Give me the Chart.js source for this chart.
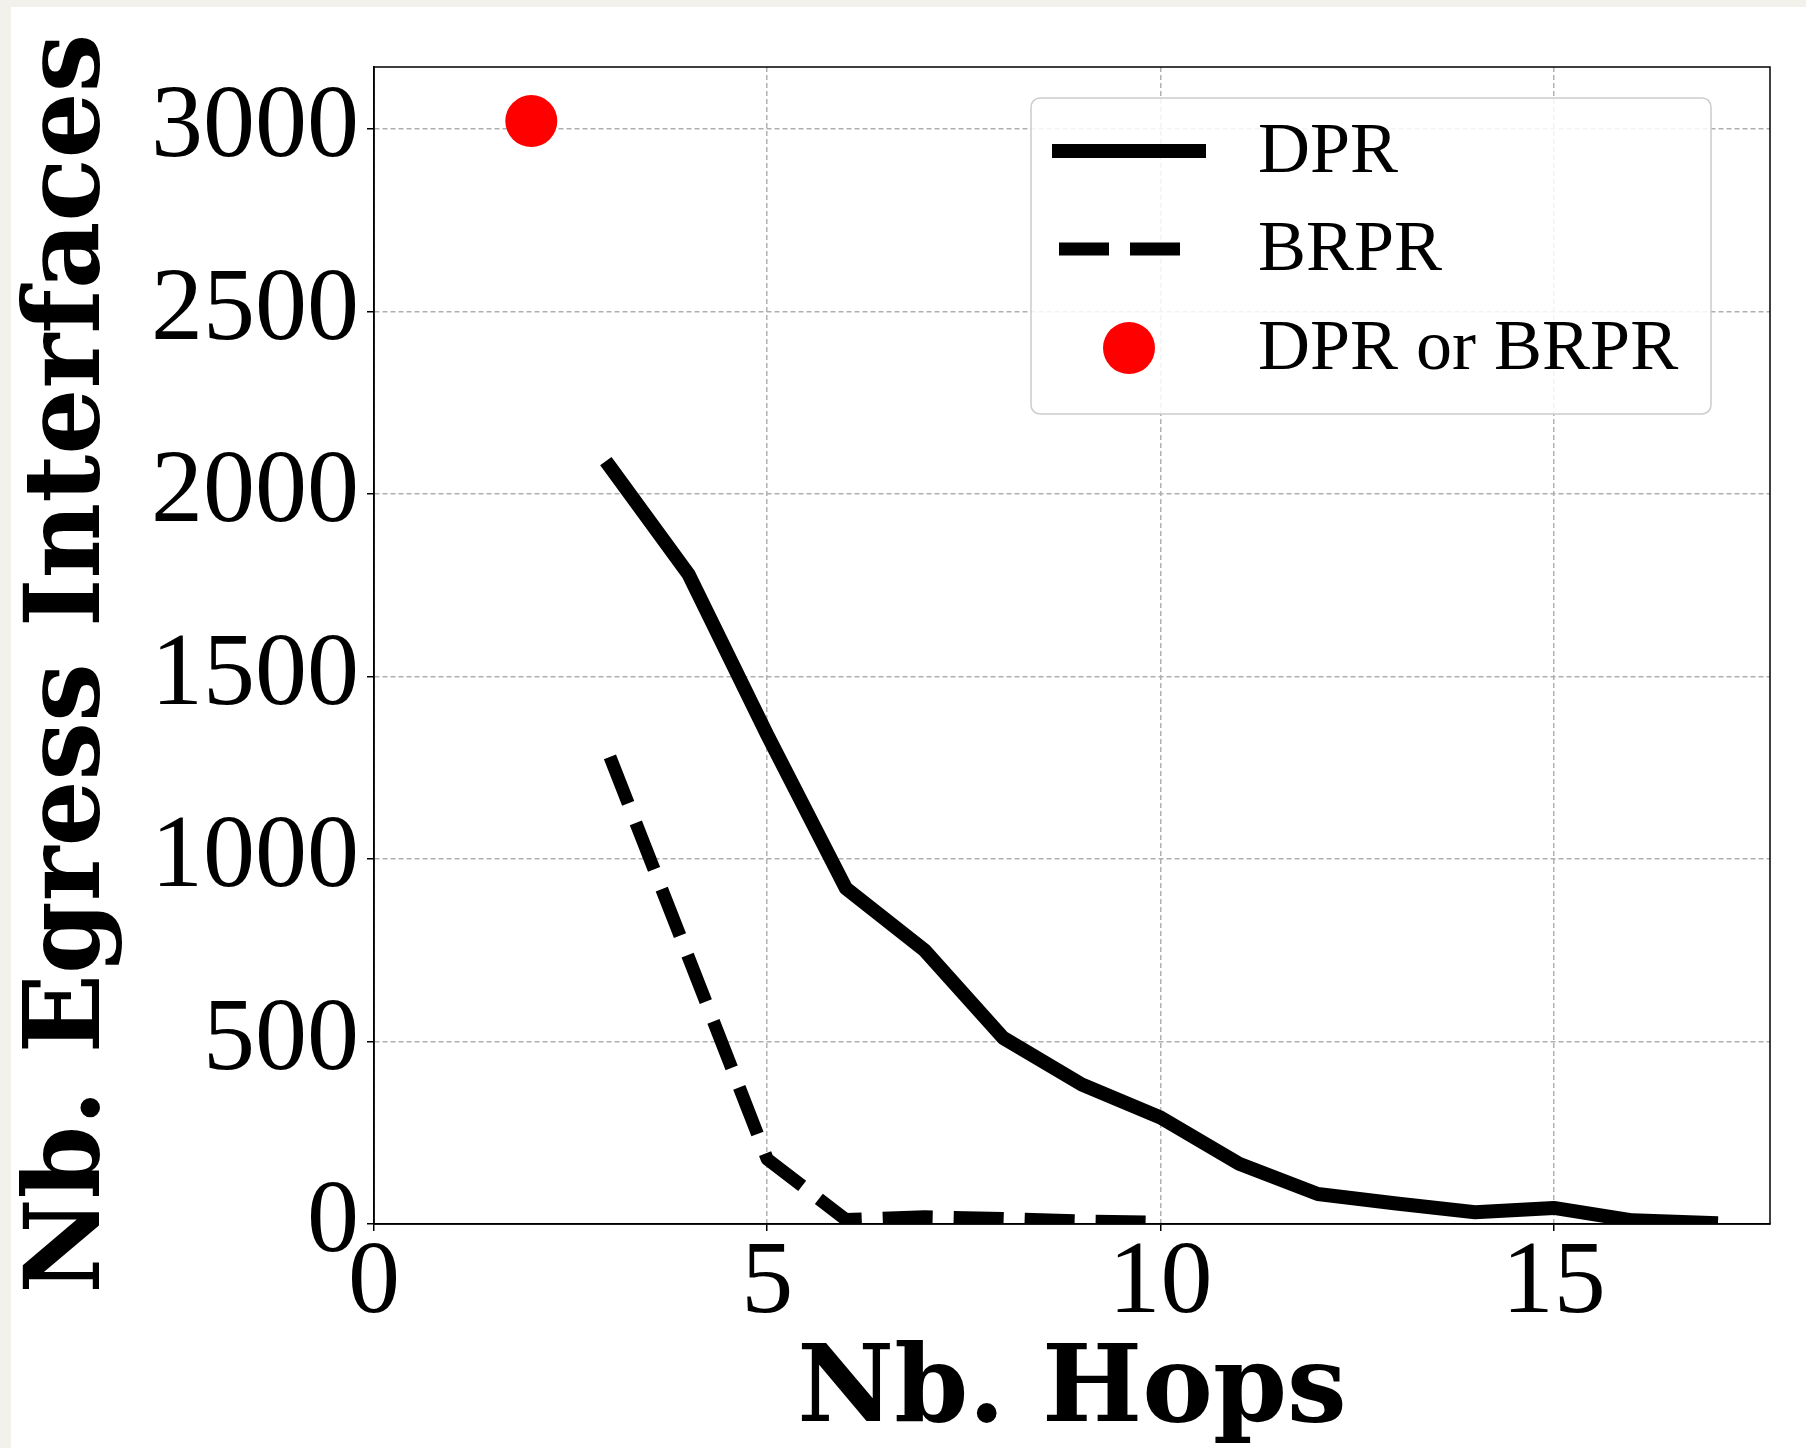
<!DOCTYPE html>
<html>
<head>
<meta charset="utf-8">
<script src="https://cdn.jsdelivr.net/npm/chart.js@4.4.1/dist/chart.umd.min.js"></script>
<style>
html,body{margin:0;padding:0;background:#f3f1ec;}
#wrap{position:absolute;left:11px;top:7px;width:1795px;height:1441px;background:#fff;}
</style>
</head>
<body>
<div id="wrap"><canvas id="chart" width="1795" height="1441"></canvas></div>
<script>
const dprHops=[3,4,5,6,7,8,9,10,11,12,13,14,15,16,17]
const dprValues=[2075,1780,1340,920,750,510,382,292,165,82,56,32,44,10,3]
const brprHops=[3,4,5,6,7,8,9,10]
const brprValues=[1280,730,178,12,20,15,8,5]
const bothHops=[2]
const bothValues=[3022]
const seriesNames=['DPR','BRPR','DPR or BRPR']
const xTicks=[0,5,10,15]
const yTicks=[0,500,1000,1500,2000,2500,3000]
const xTitle='Nb. Hops'
const yTitle='Nb. Egress Interfaces'

const serif="'Liberation Serif','DejaVu Serif',serif"
const boldSerif="'DejaVu Serif','Liberation Serif',serif"

function toPoints(xs,ys){
    return xs.map((x,i)=>({x,y:ys[i]}))
}

// top and right spines
const frame={
    id:'frame',
    afterDatasetsDraw(chart){
        const {ctx,chartArea:a}=chart
        ctx.save()
        ctx.strokeStyle='#000'
        ctx.lineWidth=1.5
        ctx.strokeRect(a.left,a.top,a.right-a.left,a.bottom-a.top)
        ctx.restore()
    }
}

// matplotlib style legend box in the upper right
const legendBox={
    id:'legendBox',
    afterDraw(chart){
        const {ctx,chartArea:a}=chart
        const x0=a.right-739, y0=a.top+31, w=680, h=316
        ctx.save()
        ctx.beginPath()
        ctx.roundRect(x0,y0,w,h,9)
        ctx.fillStyle='rgba(255,255,255,0.85)'
        ctx.fill()
        ctx.strokeStyle='#cccccc'
        ctx.lineWidth=1.5
        ctx.stroke()
        const rows=[y0+53,y0+151,y0+250]
        chart.data.datasets.forEach((ds,i)=>{
            const y=rows[i]
            const sx=x0+21, len=154
            if(ds.showLine===false){
                ctx.beginPath()
                ctx.arc(sx+len/2,y,ds.pointRadius,0,Math.PI*2)
                ctx.fillStyle=ds.pointBackgroundColor
                ctx.fill()
            }else{
                ctx.beginPath()
                ctx.strokeStyle=ds.borderColor
                ctx.lineWidth=ds.borderWidth
                ctx.lineCap='butt'
                if(ds.borderDash&&ds.borderDash.length){
                    ctx.setLineDash(ds.borderDash)
                    ctx.moveTo(sx+7,y)
                    ctx.lineTo(sx+128,y)
                }else{
                    ctx.setLineDash([])
                    ctx.moveTo(sx,y)
                    ctx.lineTo(sx+len,y)
                }
                ctx.stroke()
                ctx.setLineDash([])
            }
            ctx.fillStyle='#000'
            ctx.font='72px '+serif
            ctx.textAlign='left'
            ctx.textBaseline='middle'
            ctx.fillText(ds.label,x0+227,y+2)
        })
        ctx.restore()
    }
}

const gridOpts={
    color:'#b0b0b0',
    lineWidth:1.5,
    drawTicks:true,
    tickLength:7,
    tickColor:'#000',
    tickWidth:1.5,
    tickBorderDash:[]
}
const borderOpts={display:true,color:'#000',width:1.5,dash:[5,3]}
const plainNumber=v=>String(v)

const ctx=document.getElementById('chart')
const chart=new Chart(ctx,{
    type:'line',
    data:{
        datasets:[{
            label:seriesNames[0],
            data:toPoints(dprHops,dprValues),
            borderColor:'#000',
            borderWidth:14,
            borderCapStyle:'square',
            borderJoinStyle:'round',
            pointRadius:0,
            tension:0,
            fill:false
        },{
            label:seriesNames[1],
            data:toPoints(brprHops,brprValues),
            borderColor:'#000',
            borderWidth:13,
            borderDash:[50,21],
            borderCapStyle:'butt',
            borderJoinStyle:'round',
            pointRadius:0,
            tension:0,
            fill:false
        },{
            label:seriesNames[2],
            data:toPoints(bothHops,bothValues),
            showLine:false,
            pointRadius:26,
            pointBackgroundColor:'#ff0000',
            pointBorderWidth:0,
            borderColor:'#ff0000'
        }]
    },
    options:{
        responsive:false,
        animation:false,
        devicePixelRatio:1,
        layout:{padding:{left:0,top:59,right:36,bottom:0}},
        plugins:{legend:{display:false},tooltip:{enabled:false}},
        scales:{
            x:{
                type:'linear',
                min:0,
                max:17.75,
                afterBuildTicks(s){s.ticks=xTicks.map(v=>({value:v}))},
                afterFit(s){s.height=224},
                grid:gridOpts,
                border:borderOpts,
                ticks:{color:'#000',font:{family:serif,size:104,lineHeight:1},padding:2,maxRotation:0,autoSkip:false,callback:plainNumber},
                title:{display:true,text:xTitle,color:'#000',font:{family:boldSerif,size:106,weight:'bold',lineHeight:1},padding:{top:0,bottom:2}}
            },
            y:{
                type:'linear',
                min:0,
                max:3170,
                afterBuildTicks(s){s.ticks=yTicks.map(v=>({value:v}))},
                afterFit(s){s.width=363},
                grid:gridOpts,
                border:borderOpts,
                ticks:{color:'#000',font:{family:serif,size:104,lineHeight:1},padding:8,autoSkip:false,callback:plainNumber},
                title:{display:true,text:yTitle+' ',color:'#000',font:{family:boldSerif,size:104,weight:'bold',lineHeight:1},padding:{top:9,bottom:0}}
            }
        }
    },
    plugins:[frame,legendBox]
})
</script>
</body>
</html>
